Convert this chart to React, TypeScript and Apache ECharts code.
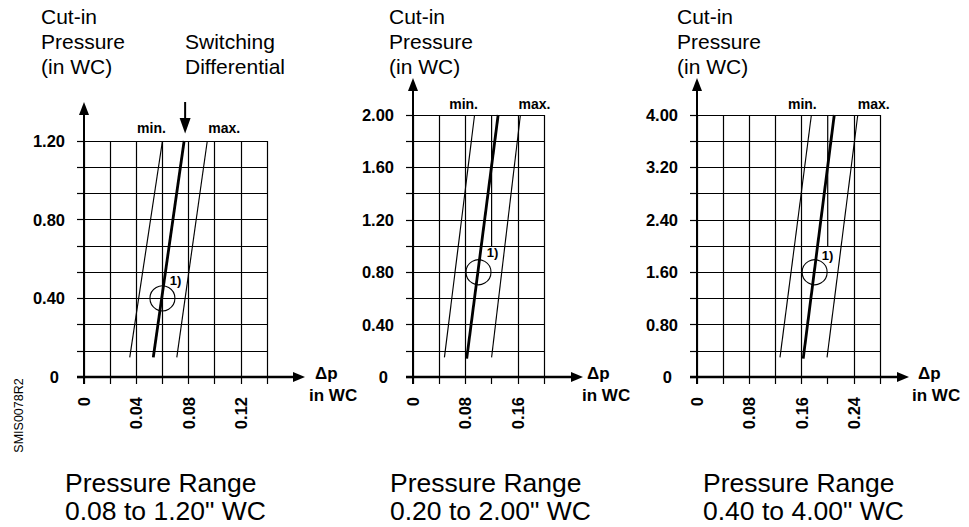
import React, { useEffect, useRef } from 'react';
import * as echarts from 'echarts';

const FONT = '"Liberation Sans", Arial, Helvetica, sans-serif';
const INK = '#000';
const GRID_W = 1.2;

// ---------- Panel 1: Pressure Range 0.08 to 1.20" WC ----------
const p1XMax = 0.14;
const p1XStep = 0.02;
const p1XTickLabels = [0, 0.04, 0.08, 0.12];
const p1YMax = 1.2;
const p1YStep = 1.2 / 9;
const p1YTickLabels = [0, 0.4, 0.8, 1.2];
const p1MinLine = [[0.035, 0.1], [0.06, 1.2]];
const p1SwitchLine = [[0.053, 0.1], [0.0766, 1.2]];
const p1MaxLine = [[0.071, 0.1], [0.0943, 1.2]];
const p1Point = [0.06, 0.4];
const p1Range = ['Pressure Range', '0.08 to 1.20" WC'];

// ---------- Panel 2: Pressure Range 0.20 to 2.00" WC ----------
const p2XMax = 0.2;
const p2XStep = 0.04;
const p2XTickLabels = [0, 0.08, 0.16];
const p2YMax = 2.0;
const p2YStep = 0.2;
const p2YTickLabels = [0, 0.4, 0.8, 1.2, 1.6, 2.0];
const p2MinLine = [[0.048, 0.15], [0.094, 2.0]];
const p2SwitchLine = [[0.082, 0.14], [0.13, 2.0]];
const p2MaxLine = [[0.12, 0.15], [0.164, 2.0]];
const p2Point = [0.1, 0.8];
const p2GridGap = [0.12, 1.0];
const p2Range = ['Pressure Range', '0.20 to 2.00" WC'];

// ---------- Panel 3: Pressure Range 0.40 to 4.00" WC ----------
const p3XMax = 0.28;
const p3XStep = 0.04;
const p3XTickLabels = [0, 0.08, 0.16, 0.24];
const p3YMax = 4.0;
const p3YStep = 0.4;
const p3YTickLabels = [0, 0.8, 1.6, 2.4, 3.2, 4.0];
const p3MinLine = [[0.127, 0.3], [0.175, 4.0]];
const p3SwitchLine = [[0.1625, 0.28], [0.21, 4.0]];
const p3MaxLine = [[0.199, 0.3], [0.246, 4.0]];
const p3Point = [0.18, 1.6];
const p3GridGap = [0.2, 2.0];
const p3Range = ['Pressure Range', '0.40 to 4.00" WC'];

const titleLines = ['Cut-in', 'Pressure', '(in WC)'];
const switchTitle = ['Switching', 'Differential'];
const axisName = ['\u0394p', 'in WC'];
const drawingCode = 'SMIS0078R2';

const panels = [
  {
    grid: { left: 84, top: 141, width: 183, height: 236 },
    xMax: p1XMax, xStep: p1XStep, xLabels: p1XTickLabels,
    yMax: p1YMax, yStep: p1YStep, yLabels: p1YTickLabels,
    minLine: p1MinLine, swLine: p1SwitchLine, maxLine: p1MaxLine, point: p1Point,
    gap: null as number[] | null, range: p1Range,
    extX: 38, extY: 39, titleX: 41, dpX: 315, inX: 309, rangeX: 65,
    minOff: [-11, -13], maxOff: [17, -13], markOff: [13, -18],
  },
  {
    grid: { left: 413, top: 115, width: 131, height: 262 },
    xMax: p2XMax, xStep: p2XStep, xLabels: p2XTickLabels,
    yMax: p2YMax, yStep: p2YStep, yLabels: p2YTickLabels,
    minLine: p2MinLine, swLine: p2SwitchLine, maxLine: p2MaxLine, point: p2Point,
    gap: p2GridGap, range: p2Range,
    extX: 39, extY: 37, titleX: 389, dpX: 587, inX: 582, rangeX: 390,
    minOff: [-11, -11], maxOff: [14, -11], markOff: [14, -20],
  },
  {
    grid: { left: 697, top: 115, width: 183, height: 262 },
    xMax: p3XMax, xStep: p3XStep, xLabels: p3XTickLabels,
    yMax: p3YMax, yStep: p3YStep, yLabels: p3YTickLabels,
    minLine: p3MinLine, swLine: p3SwitchLine, maxLine: p3MaxLine, point: p3Point,
    gap: p3GridGap, range: p3Range,
    extX: 29, extY: 37, titleX: 677, dpX: 918, inX: 912, rangeX: 703,
    minOff: [-9, -11], maxOff: [16, -11], markOff: [13, -17],
  },
];

const labelFmt = (labels: number[], max: number, zeroRich: boolean) => (v: number) => {
  if (v !== max && Math.abs(v - max) < 1e-9) return '';
  const hit = labels.find((t) => Math.abs(t - v) < 1e-6);
  if (hit === undefined) return '';
  if (hit === 0) return zeroRich ? '{z|0}' : '0';
  return hit.toFixed(2);
};

function buildOption() {
  const labelBase = { color: INK, fontFamily: FONT, fontWeight: 'bold', fontSize: 16.5 };
  const grid = panels.map((p) => ({ ...p.grid, containLabel: false, outerBoundsMode: 'none' }));
  const xAxis = panels.map((p, i) => {
    const n = Math.round(p.xMax / p.xStep) + 1;
    const colors = Array.from({ length: n }, (_, k) =>
      p.gap && Math.abs(k * p.xStep - p.gap[0]) < 1e-9 ? 'rgba(0,0,0,0)' : INK
    );
    return {
      type: 'value', gridIndex: i, min: 0, max: p.xMax, interval: p.xStep,
      axisLine: { show: false },
      axisTick: { show: true, length: 7, lineStyle: { color: INK, width: GRID_W } },
      splitLine: { show: true, lineStyle: { color: colors, width: GRID_W } },
      axisLabel: { ...labelBase, rotate: 90, margin: 20, formatter: labelFmt(p.xLabels, p.xMax, false) },
    };
  });
  const yAxis = panels.map((p, i) => ({
    type: 'value', gridIndex: i, min: 0, max: p.yMax, interval: p.yStep,
    axisLine: { show: false },
    axisTick: { show: true, length: 7, lineStyle: { color: INK, width: GRID_W } },
    splitLine: { show: true, lineStyle: { color: INK, width: GRID_W } },
    axisLabel: {
      ...labelBase, margin: 19, formatter: labelFmt(p.yLabels, p.yMax, true),
      rich: { z: { ...labelBase, padding: [0, 6, 0, 0] } },
    },
  }));

  const series: any[] = [];
  panels.forEach((p, i) => {
    const ax = { xAxisIndex: i, yAxisIndex: i, silent: true };
    series.push(
      { ...ax, type: 'line', data: p.minLine, symbol: 'none', z: 3, lineStyle: { color: INK, width: 1.15, opacity: 1 } },
      { ...ax, type: 'line', data: p.swLine, symbol: 'none', z: 3, lineStyle: { color: INK, width: 2.8, opacity: 1 } },
      { ...ax, type: 'line', data: p.maxLine, symbol: 'none', z: 3, lineStyle: { color: INK, width: 1.15, opacity: 1 } }
    );
    if (p.gap) {
      series.push({
        ...ax, type: 'line', data: [[p.gap[0], p.yMax], [p.gap[0], p.gap[1]]], symbol: 'none', z: 1,
        lineStyle: { color: INK, width: GRID_W, opacity: 1 },
      });
    }
    series.push({
      ...ax, type: 'scatter', data: [p.point], symbol: 'circle', symbolSize: 25, z: 6,
      itemStyle: { color: 'rgba(0,0,0,0)', borderColor: INK, borderWidth: 1.1, opacity: 1 },
      label: {
        show: true, formatter: '1)', position: 'inside', offset: p.markOff,
        color: INK, fontFamily: FONT, fontWeight: 'bold', fontSize: 13, textBorderWidth: 0, opacity: 1,
      },
    });
    const lab = { show: true, position: 'inside', color: INK, fontFamily: FONT, fontWeight: 'bold', fontSize: 14, textBorderWidth: 0, opacity: 1 };
    series.push({
      ...ax, type: 'scatter', symbol: 'circle', symbolSize: 1, z: 6,
      itemStyle: { color: 'rgba(0,0,0,0)', opacity: 1 },
      data: [
        { value: p.minLine[1], label: { ...lab, formatter: 'min.', offset: p.minOff } },
        { value: p.maxLine[1], label: { ...lab, formatter: 'max.', offset: p.maxOff } },
      ],
    });
    series.push({
      ...ax, type: 'custom', clip: false, z: 7, data: [[0, 0]],
      renderItem: (_params: any, api: any) => {
        const o = api.coord([0, 0]);
        const tr = api.coord([p.xMax, p.yMax]);
        const tipX = tr[0] + p.extX;
        const tipY = tr[1] - p.extY;
        return {
          type: 'group',
          children: [
            { type: 'line', shape: { x1: o[0] - 7, y1: o[1], x2: tipX - 10, y2: o[1] }, style: { stroke: INK, lineWidth: 2.5 } },
            { type: 'polygon', shape: { points: [[tipX, o[1]], [tipX - 12, o[1] - 5], [tipX - 12, o[1] + 5]] }, style: { fill: INK } },
            { type: 'line', shape: { x1: o[0], y1: o[1] + 7, x2: o[0], y2: tipY + 10 }, style: { stroke: INK, lineWidth: 2 } },
            { type: 'polygon', shape: { points: [[o[0], tipY], [o[0] - 5, tipY + 13], [o[0] + 5, tipY + 13]] }, style: { fill: INK } },
          ],
        };
      },
    });
    if (i === 0) {
      series.push({
        ...ax, type: 'custom', clip: false, z: 7, data: [p.swLine[1]],
        renderItem: (_params: any, api: any) => {
          const c = api.coord([api.value(0), api.value(1)]);
          const x = c[0] + 1;
          return {
            type: 'group',
            children: [
              { type: 'line', shape: { x1: x, y1: c[1] - 39, x2: x, y2: c[1] - 20 }, style: { stroke: INK, lineWidth: 2 } },
              { type: 'polygon', shape: { points: [[x, c[1] - 7.5], [x - 5.5, c[1] - 23], [x + 5.5, c[1] - 23]] }, style: { fill: INK } },
            ],
          };
        },
      });
    }
  });

  const txt = (x: number, y: number, s: string, size: number, weight: string) => ({
    type: 'text', x, y, silent: true,
    style: { text: s, fill: INK, fontFamily: FONT, fontSize: size, fontWeight: weight, textAlign: 'left', textVerticalAlign: 'middle' },
  });
  const graphic: any[] = [];
  const lineY = [16, 41, 66];
  panels.forEach((p, i) => {
    titleLines.forEach((t, k) => graphic.push(txt(p.titleX, lineY[k], t, 21, 'normal')));
    graphic.push(txt(p.dpX, 373, axisName[0], 17, 'bold'));
    graphic.push(txt(p.inX, 395, axisName[1], 17, 'bold'));
    graphic.push(txt(p.rangeX, 482.5, p.range[0], 26.5, 'normal'));
    graphic.push(txt(p.rangeX, 511, p.range[1], 26.5, 'normal'));
    if (i === 0) {
      switchTitle.forEach((t, k) => graphic.push(txt(185, lineY[k + 1], t, 21, 'normal')));
    }
  });
  graphic.push({
    type: 'text', x: 19, y: 415.5, rotation: Math.PI / 2, silent: true,
    style: { text: drawingCode, fill: INK, fontFamily: FONT, fontSize: 12.5, fontWeight: 'normal', textAlign: 'center', textVerticalAlign: 'middle' },
  });

  return {
    animation: false,
    backgroundColor: '#fff',
    textStyle: { fontFamily: FONT },
    grid, xAxis, yAxis, series, graphic,
  };
}

export default function App() {
  const ref = useRef<HTMLDivElement>(null);
  useEffect(() => {
    if (!ref.current) return;
    const chart = echarts.init(ref.current, null, { renderer: 'svg' });
    chart.setOption(buildOption() as any);
    return () => chart.dispose();
  }, []);
  return <div ref={ref} style={{ position: 'absolute', left: 0, top: 0, width: 969, height: 527 }} />;
}
